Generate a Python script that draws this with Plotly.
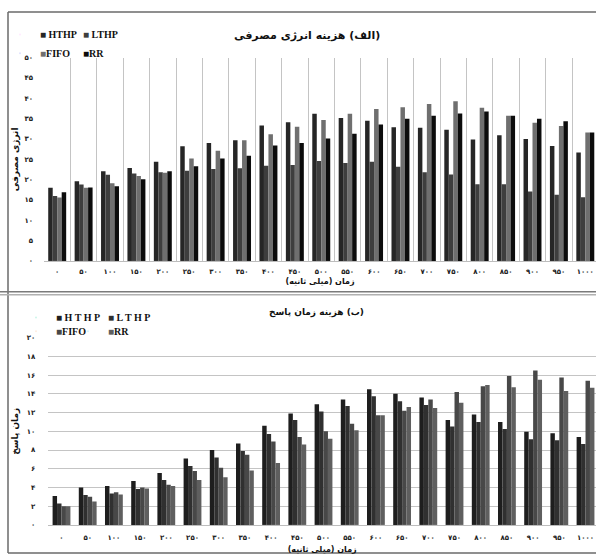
import plotly.graph_objects as go

# ---- data -------------------------------------------------------------
times = [0, 50, 100, 150, 200, 250, 300, 350, 400, 450, 500,
         550, 600, 650, 700, 750, 800, 850, 900, 950, 1000]

series_names = ["HTHP", "LTHP", "FIFO", "RR"]

# (a) energy consumption cost
energy_hthp = [18.0, 19.6, 22.1, 22.9, 24.4, 28.2, 29.0, 29.7, 33.3, 34.1, 36.2,
               35.2, 34.5, 32.9, 32.8, 32.3, 29.9, 30.9, 30.0, 28.3, 26.7]
energy_lthp = [16.0, 18.8, 21.2, 21.5, 21.8, 22.2, 22.6, 22.8, 23.4, 23.6, 24.6,
               24.1, 24.4, 23.2, 21.8, 21.3, 18.9, 18.9, 17.1, 16.3, 15.7]
energy_fifo = [15.6, 18.0, 19.1, 20.9, 21.7, 25.2, 27.1, 29.7, 31.2, 33.0, 34.7,
               36.2, 37.4, 37.8, 38.6, 39.3, 37.7, 35.7, 34.0, 33.2, 31.6]
energy_rr = [16.9, 18.1, 18.4, 20.1, 22.1, 23.3, 25.2, 25.9, 28.4, 29.0, 30.1,
             31.3, 33.6, 35.0, 35.7, 36.3, 36.8, 35.7, 35.0, 34.4, 31.6]

# (b) response time cost
resp_hthp = [3.1, 4.0, 4.15, 4.7, 5.55, 7.1, 8.0, 8.7, 10.6, 11.9, 12.9,
             13.4, 14.5, 14.0, 13.6, 11.2, 11.8, 11.0, 9.95, 9.8, 9.4]
resp_lthp = [2.3, 3.2, 3.35, 3.85, 4.8, 6.3, 7.2, 7.9, 9.7, 11.2, 12.1,
             12.7, 13.75, 13.2, 12.8, 10.5, 11.0, 10.25, 9.15, 9.05, 8.65]
resp_fifo = [2.0, 3.0, 3.5, 4.0, 4.3, 5.75, 6.1, 7.5, 8.9, 9.4, 10.0,
             10.8, 11.7, 12.2, 13.4, 14.2, 14.8, 15.9, 16.5, 15.75, 15.4]
resp_rr = [2.0, 2.5, 3.25, 3.9, 4.15, 4.8, 5.1, 5.8, 6.6, 8.6, 9.2,
           10.1, 11.7, 12.6, 12.5, 13.05, 14.95, 14.7, 15.5, 14.3, 14.65]

energy_ticks = [0, 5, 10, 15, 20, 25, 30, 35, 40, 45, 50]
resp_ticks = [0, 2, 4, 6, 8, 10, 12, 14, 16, 18, 20]

energy_colors = ["#262626", "#3e3e3e", "#6f6f6f", "#0c0c0c"]
resp_colors = ["#1e1e1e", "#303030", "#484848", "#5f5f5f"]

# ---- helpers ----------------------------------------------------------
W, H = 596, 558
FA = str.maketrans("0123456789", "۰۱۲۳۴۵۶۷۸۹")
RLM = "\u200f"


def fa(v):
    return str(v).translate(FA)


def rtl(s):
    # keep Persian strings (with their parentheses) in right-to-left order
    return RLM + s + RLM


def px(x):
    return x / W


def py(y):
    return 1 - y / H


time_labels = [fa(t) for t in times]
FONT_FA = "DejaVu Sans"
FONT_EN = "Liberation Serif"

fig = go.Figure()

energy = [energy_hthp, energy_lthp, energy_fifo, energy_rr]
resp = [resp_hthp, resp_lthp, resp_fifo, resp_rr]

for i, name in enumerate(series_names):
    fig.add_trace(go.Bar(x=time_labels, y=energy[i], name=name,
                         marker=dict(color=energy_colors[i], line=dict(width=0)),
                         xaxis="x", yaxis="y", showlegend=False,
                         legendgroup="e" + name))
for i, name in enumerate(series_names):
    fig.add_trace(go.Bar(x=time_labels, y=resp[i], name=name,
                         marker=dict(color=resp_colors[i], line=dict(width=0)),
                         xaxis="x2", yaxis="y2", showlegend=False,
                         legendgroup="r" + name))

# legend entries: a small square glyph followed by the series name,
# one legend per entry so the 2x2 arrangement can be placed freely
leg_font = dict(family=FONT_EN, size=10, color="#111111", weight="bold")
leg_common = dict(orientation="h", xanchor="left", yanchor="middle",
                  bgcolor="rgba(0,0,0,0)", font=leg_font,
                  itemclick=False, itemwidth=30)

# (legend x, legend y) in pixels for each entry
energy_leg_pos = [(0, 31), (43, 31), (0, 50), (43, 50)]
resp_leg_pos = [(16, 318), (68, 318), (16, 332), (68, 332)]

legends = {}
for i, name in enumerate(series_names):
    lid = "legend" if i == 0 else f"legend{i + 1}"
    lx, ly = energy_leg_pos[i]
    legends[lid] = dict(x=px(lx), y=py(ly), **leg_common)
    gap = " " if i < 2 else ""
    fig.add_trace(go.Scatter(
        x=[None], y=[None], mode="markers",
        marker=dict(size=1, opacity=0),
        name=f"<span style='color:{energy_colors[i]}'>■</span>{gap}{name}",
        legend=lid, legendgroup="e" + name,
        xaxis="x", yaxis="y"))
for i, name in enumerate(series_names):
    lid = f"legend{i + 5}"
    lx, ly = resp_leg_pos[i]
    legends[lid] = dict(x=px(lx), y=py(ly), **leg_common)
    label = " " + " ".join(name) if i < 2 else name
    fig.add_trace(go.Scatter(
        x=[None], y=[None], mode="markers",
        marker=dict(size=1, opacity=0),
        name=f"<span style='color:{resp_colors[i]}'>■</span>{label}",
        legend=lid, legendgroup="r" + name,
        xaxis="x2", yaxis="y2"))

tick_font = dict(family=FONT_FA, size=7, color="#222222", weight="bold")
title_font = dict(family=FONT_FA, size=8, color="#111111", weight="bold")
ytitle_font = dict(family=FONT_FA, size=9, color="#111111", weight="bold")

fig.update_layout(
    width=W, height=H,
    margin=dict(l=0, r=0, t=0, b=0),
    paper_bgcolor="white", plot_bgcolor="white",
    barmode="group", bargap=0.32, bargroupgap=0,
    xaxis=dict(domain=[px(44), 1], range=[-0.5, 20.405], type="category",
               tickson="boundaries", showgrid=True, gridcolor="#c4c4c4",
               gridwidth=1, ticks="", showline=True, linecolor="#bdbdbd",
               linewidth=1, tickfont=tick_font, tickangle=0,
               ticklabelstandoff=4,
               title=dict(text=rtl("زمان (میلی ثانیه)"), font=title_font,
                          standoff=3),
               anchor="y"),
    yaxis=dict(domain=[py(260.7), py(54.5)], range=[0, 50],
               tickvals=energy_ticks, ticktext=[fa(v) for v in energy_ticks],
               showgrid=False, zeroline=False, showline=False, ticks="",
               tickfont=tick_font, ticklabelstandoff=10,
               title=dict(text=rtl("انرژی مصرفی"), font=ytitle_font,
                          standoff=4),
               anchor="x"),
    xaxis2=dict(domain=[px(48.4), 1], range=[-0.5, 20.4], type="category",
                showgrid=False, ticks="", showline=True, linecolor="#bdbdbd",
                linewidth=1, tickfont=tick_font, tickangle=0,
                ticklabelstandoff=6,
                title=dict(text=rtl("زمان (میلی ثانیه)"), font=title_font,
                           standoff=5),
                anchor="y2"),
    yaxis2=dict(domain=[py(528.5), py(338.5)], range=[0, 20],
                tickvals=resp_ticks, ticktext=[fa(v) for v in resp_ticks],
                showgrid=True, gridcolor="#c4c4c4", gridwidth=1,
                zeroline=False, showline=False, ticks="",
                tickfont=tick_font, ticklabelstandoff=12,
                title=dict(text=rtl("زمان پاسخ"), font=ytitle_font,
                           standoff=6),
                anchor="x2"),
    **legends,
)

# panel headings
fig.add_annotation(text=rtl("(الف) هزینه انرژی مصرفی"), x=px(307), y=py(23),
                   xref="paper", yref="paper", showarrow=False,
                   font=dict(family=FONT_FA, size=11, color="#111111",
                             weight="bold"))
fig.add_annotation(text=rtl("(ب) هزینه زمان پاسخ"), x=px(316), y=py(313),
                   xref="paper", yref="paper", showarrow=False,
                   font=dict(family=FONT_FA, size=9, color="#111111",
                             weight="bold"))

# frame around the two panels
frame = dict(color="#6a6a6a", width=1.5)
for x0, y0, x1, y1 in [(8, 8, 596, 8), (8, 8, 8, 557), (8, 557, 596, 557)]:
    fig.add_shape(type="line", xref="paper", yref="paper",
                  x0=px(x0), y0=py(y0), x1=px(x1), y1=py(y1), line=frame)
for yy, col in [(292, "#7a7a7a"), (295, "#b0b0b0")]:
    fig.add_shape(type="line", xref="paper", yref="paper",
                  x0=px(0), y0=py(yy), x1=1, y1=py(yy),
                  line=dict(color=col, width=1.5))

fig.write_html("out.html")
